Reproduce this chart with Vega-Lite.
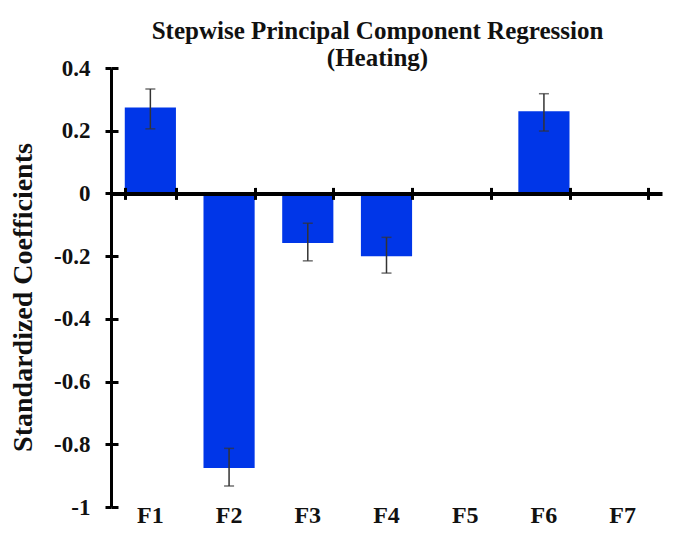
{
  "$schema": "https://vega.github.io/schema/vega-lite/v6.json",
  "autosize": {"type": "none"},
  "padding": {"left": 111, "top": 68, "right": 23, "bottom": 30},
  "width": 551,
  "height": 439,
  "background": "white",
  "title": {
    "text": ["Stepwise Principal Component Regression", "(Heating)"],
    "font": "Liberation Serif",
    "fontSize": 25,
    "fontWeight": "bold",
    "color": "#111111",
    "anchor": "middle",
    "dx": -9,
    "offset": -14,
    "lineHeight": 27
  },
  "config": {
    "view": {"stroke": null},
    "font": "Liberation Serif",
    "axis": {
      "labelFont": "Liberation Serif",
      "titleFont": "Liberation Serif",
      "labelColor": "#111111",
      "titleColor": "#111111",
      "domainColor": "#000000",
      "tickColor": "#000000",
      "grid": false
    }
  },
  "data": {
    "values": [
      {"factor": "F1", "coef": 0.274, "lo": 0.206, "hi": 0.333},
      {"factor": "F2", "coef": -0.876, "lo": -0.933, "hi": -0.813},
      {"factor": "F3", "coef": -0.158, "lo": -0.215, "hi": -0.095},
      {"factor": "F4", "coef": -0.2, "lo": -0.254, "hi": -0.14},
      {"factor": "F6", "coef": 0.262, "lo": 0.199, "hi": 0.318}
    ]
  },
  "resolve": {
    "scale": {"x": "shared", "y": "shared"},
    "axis": {"x": "independent", "y": "independent"}
  },
  "layer": [
    {
      "mark": {"type": "bar", "color": "#0036E8"},
      "encoding": {
        "x": {
          "field": "factor",
          "type": "nominal",
          "scale": {"domain": ["F1", "F2", "F3", "F4", "F5", "F6", "F7"], "paddingInner": 0.35, "paddingOuter": 0.175},
          "axis": {
            "orient": "bottom",
            "title": null,
            "domain": false,
            "ticks": false,
            "labelAngle": 0,
            "labelFontSize": 24,
            "labelFontWeight": "bold",
            "labelPadding": -4
          }
        },
        "y": {
          "field": "coef",
          "type": "quantitative",
          "scale": {"domain": [-1, 0.4], "nice": false, "zero": false},
          "axis": {
            "orient": "left",
            "title": "Standardized  Coefficients",
            "titleFontSize": 28,
            "titleFontWeight": "bold",
            "titleX": -74,
            "titleY": 229,
            "values": [-1, -0.8, -0.6, -0.4, -0.2, 0, 0.2, 0.4],
            "labelExpr": "'' + datum.value",
            "labelFontSize": 23,
            "labelFontWeight": "bold",
            "labelPadding": 15,
            "domainWidth": 3,
            "tickWidth": 3,
            "tickSize": 6
          }
        }
      }
    },
    {
      "mark": {"type": "rule", "color": "#333333", "strokeWidth": 1.5},
      "encoding": {
        "x": {
          "field": "factor",
          "type": "nominal",
          "axis": {
            "orient": "top",
            "offset": -125.4,
            "title": null,
            "labels": false,
            "domainWidth": 4,
            "tickBand": "extent",
            "tickSize": 6,
            "tickWidth": 3,
            "zindex": 2
          }
        },
        "y": {
          "field": "lo",
          "type": "quantitative",
          "axis": {
            "orient": "left",
            "title": null,
            "labels": false,
            "domain": false,
            "values": [-1, -0.8, -0.6, -0.4, -0.2, 0, 0.2, 0.4],
            "tickSize": -7,
            "tickWidth": 3
          }
        },
        "y2": {"field": "hi"}
      }
    },
    {
      "mark": {"type": "tick", "color": "#333333", "size": 10, "thickness": 1.5},
      "encoding": {
        "x": {
          "field": "factor",
          "type": "nominal",
          "axis": {
            "orient": "bottom",
            "offset": -313.6,
            "title": null,
            "labels": false,
            "domain": false,
            "tickBand": "extent",
            "tickSize": 6,
            "tickWidth": 3,
            "zindex": 2
          }
        },
        "y": {"field": "lo", "type": "quantitative", "axis": null}
      }
    },
    {
      "mark": {"type": "tick", "color": "#333333", "size": 10, "thickness": 1.5},
      "encoding": {
        "x": {"field": "factor", "type": "nominal", "axis": null},
        "y": {"field": "hi", "type": "quantitative", "axis": null}
      }
    }
  ]
}
